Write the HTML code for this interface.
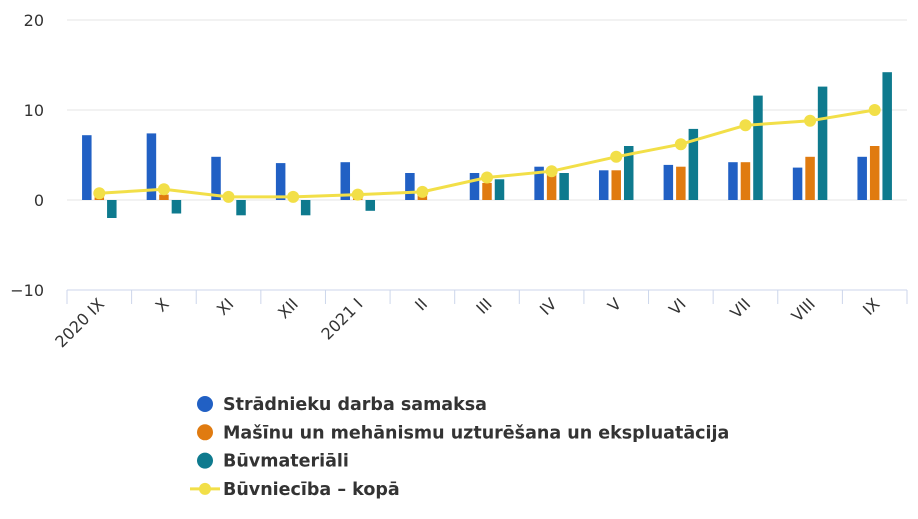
<!DOCTYPE html>
<html><head><meta charset="utf-8"><style>
body{margin:0;background:#fff;width:918px;height:514px;overflow:hidden}
text{font-family:"DejaVu Sans","Liberation Sans",sans-serif;fill:#333}
</style></head><body>
<svg id="chart" width="918" height="514" xmlns="http://www.w3.org/2000/svg"></svg>
<script>
const categories=["2020 IX","X","XI","XII","2021 I","II","III","IV","V","VI","VII","VIII","IX"];
const labour=[7.2,7.4,4.8,4.1,4.2,3.0,3.0,3.7,3.3,3.9,4.2,3.6,4.8];
const machinery=[0.3,0.6,0.1,0.2,0.2,0.5,1.9,2.8,3.3,3.7,4.2,4.8,6.0];
const materials=[-2.0,-1.5,-1.7,-1.7,-1.2,0,2.3,3.0,6.0,7.9,11.6,12.6,14.2];
const total=[0.75,1.2,0.35,0.35,0.6,0.9,2.5,3.2,4.8,6.2,8.3,8.8,10.0];
const yTicks=[20,10,0,-10];
const legendLabels=["Strādnieku darba samaksa","Mašīnu un mehānismu uzturēšana un ekspluatācija","Būvmateriāli","Būvniecība – kopā"];

const NS="http://www.w3.org/2000/svg";
const svg=document.getElementById('chart');
const x0=67,x1=907,bw=(x1-x0)/categories.length;
const y=v=>200-v*9;
const xc=i=>x0+bw*(i+0.5);
function mk(t,a,p){const e=document.createElementNS(NS,t);for(const k in a)e.setAttribute(k,a[k]);(p||svg).appendChild(e);return e;}

yTicks.forEach(v=>{
  if(v!==-10){const g=mk('line',{x1:x0,x2:x1,y1:y(v),y2:y(v),stroke:'#e6e6e6','stroke-width':1});
  
  }
  const t=mk('text',{x:44,y:y(v)+6,'text-anchor':'end','font-size':16});
  t.textContent=v<0?'−'+Math.abs(v):v;
  
  
});
const ax=mk('line',{x1:x0,x2:x1,y1:290,y2:290,stroke:'#ccd6eb','stroke-width':1});


for(let i=0;i<=categories.length;i++){
  const tk=mk('line',{x1:x0+bw*i,x2:x0+bw*i,y1:290,y2:304,stroke:'#ccd6eb'});
  
  
}
categories.forEach((c,i)=>{
  const t=mk('text',{x:xc(i)+6,y:305,'text-anchor':'end','font-size':16,transform:`rotate(-45 ${xc(i)+6} 305)`});
  t.textContent=c;
  
  
});
const series=[[labour,'#2160c4',-12.5,'bar-labour'],[machinery,'#e07b10',0,'bar-machinery'],[materials,'#0e7a8e',12.5,'bar-materials']];
series.forEach(([d,col,off,nm])=>{
  d.forEach((v,i)=>{
    const top=Math.min(y(v),y(0)),h=Math.abs(y(v)-y(0));
    const r=mk('rect',{x:xc(i)+off-4.75,y:top,width:9.5,height:h,fill:col});
    
    
  });
});
const pl=mk('polyline',{points:total.map((v,i)=>xc(i)+','+y(v)).join(' '),fill:'none',stroke:'#f2df48','stroke-width':3});


total.forEach((v,i)=>{
  const c=mk('circle',{cx:xc(i),cy:y(v),r:6,fill:'#f2df48'});
  
  
});
const cols=['#2160c4','#e07b10','#0e7a8e'];
legendLabels.forEach((l,i)=>{
  const yy=404+i*28.3;
  const g=mk('g',{});
  
  
  if(i<3){mk('circle',{cx:205,cy:yy,r:8,fill:cols[i]},g);}
  else{mk('line',{x1:190,x2:220,y1:yy,y2:yy,stroke:'#f2df48','stroke-width':3},g);mk('circle',{cx:205,cy:yy,r:6,fill:'#f2df48'},g);}
  const t=mk('text',{x:223,y:yy+6,'font-size':17.5,'font-weight':'bold'},g);
  t.textContent=l;
});
</script>
</body></html>
